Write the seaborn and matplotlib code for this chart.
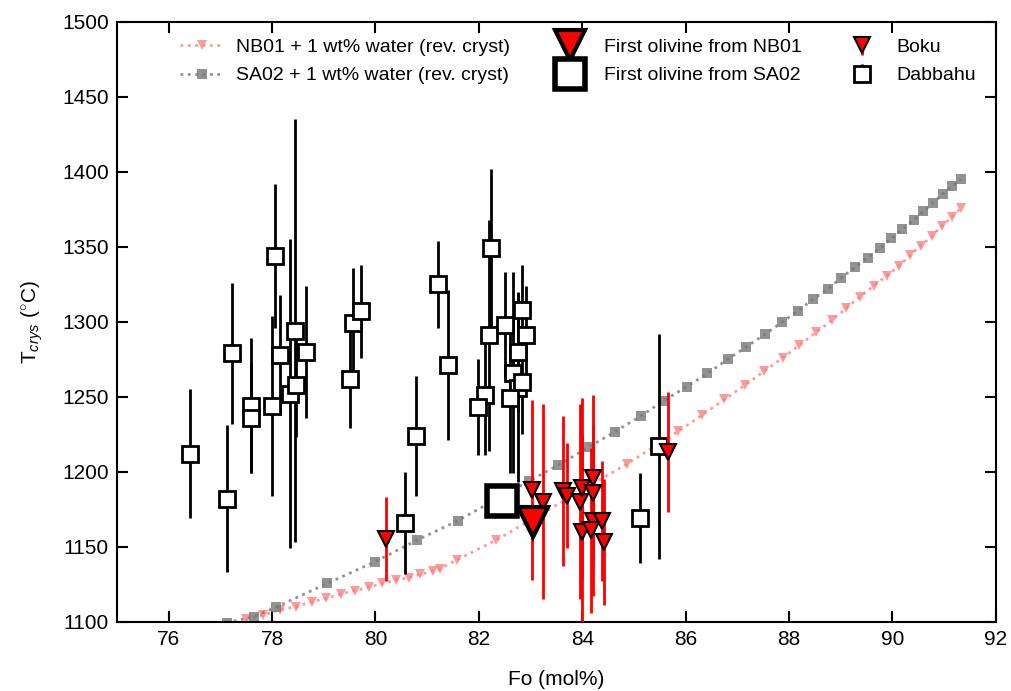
import matplotlib
matplotlib.use("Agg")
import matplotlib.pyplot as plt
import numpy as np
import pandas as pd
import seaborn as sns

# ---------------- data ----------------
nb01_fo = [77.49, 77.83, 78.15, 78.47, 78.77, 79.05, 79.33, 79.60, 79.87, 80.13, 80.39,
           80.64, 80.87, 81.11, 81.25, 81.57, 82.34, 84.86, 85.86, 86.32, 86.75, 87.15,
           87.52, 87.88, 88.20, 88.52, 88.83, 89.10, 89.37, 89.64, 89.89, 90.13, 90.34,
           90.55, 90.76, 90.95, 91.15, 91.32]
nb01_t = [1101.6, 1104.5, 1107.8, 1110.0, 1113.3, 1115.6, 1118.5, 1120.7, 1123.0, 1125.6,
          1127.8, 1129.3, 1131.6, 1133.8, 1135.3, 1141.1, 1154.5, 1205.1, 1227.1, 1237.8,
          1248.3, 1257.8, 1267.1, 1276.0, 1284.5, 1292.9, 1301.1, 1308.9, 1316.7, 1324.0,
          1330.7, 1337.3, 1344.3, 1350.9, 1357.1, 1363.8, 1369.8, 1375.8]

sa02_fo = [77.12, 77.65, 78.07, 79.07, 79.99, 80.81, 81.59, 82.30, 82.97, 83.54, 84.12,
           84.63, 85.13, 85.56, 86.02, 86.42, 86.81, 87.17, 87.53, 87.86, 88.17, 88.46,
           88.75, 89.01, 89.27, 89.52, 89.75, 89.98, 90.19, 90.41, 90.60, 90.78, 90.97,
           91.16, 91.33]
sa02_t = [1099.3, 1103.3, 1109.6, 1125.6, 1140.0, 1154.5, 1167.3, 1181.0, 1193.8, 1204.5,
          1216.3, 1226.7, 1237.1, 1247.1, 1256.7, 1265.6, 1274.9, 1283.3, 1291.6, 1299.6,
          1307.3, 1314.9, 1321.8, 1329.3, 1336.3, 1342.9, 1349.0, 1355.6, 1361.6, 1367.8,
          1373.6, 1379.3, 1385.0, 1390.5, 1395.1]

first_nb01_fo = [83.05]
first_nb01_t = [1166.7]
first_sa02_fo = [82.45]
first_sa02_t = [1180.5]

boku_fo = [80.21, 83.03, 83.25, 83.62, 83.70, 83.96, 84.00, 84.21, 84.21, 83.99,
           84.21, 84.39, 84.16, 84.43, 85.66]
boku_t = [1155, 1188, 1180, 1187, 1184, 1180, 1189, 1196, 1186, 1160,
          1167, 1167, 1161, 1153, 1213]
boku_err = [28, 60, 65, 50, 35, 65, 60, 55, 45, 65, 50, 40, 55, 42, 40]

dab_fo = [76.41, 77.13, 77.23, 77.59, 77.60, 78.05, 78.15, 77.99, 78.35, 78.45, 78.46,
          78.66, 79.50, 79.57, 79.72, 80.57, 80.79, 81.21, 81.41, 82.23, 82.19, 82.12,
          81.99, 82.51, 82.83, 82.91, 82.75, 82.66, 82.75, 82.60, 82.83, 85.11, 85.48]
dab_t = [1212, 1182, 1279, 1244, 1236, 1344, 1278, 1244, 1252, 1294, 1258,
         1280, 1262, 1299, 1307, 1166, 1224, 1325, 1271, 1349, 1291, 1251,
         1243, 1298, 1308, 1291, 1280, 1266, 1256, 1249, 1260, 1169, 1217]
dab_err = [43, 49, 47, 45, 37, 48, 40, 60, 103, 141, 35,
           44, 33, 37, 31, 34, 40, 29, 50, 53, 77, 40,
           32, 35, 30, 33, 40, 67, 63, 50, 35, 30, 75]

x_ticks = [76, 78, 80, 82, 84, 86, 88, 90, 92]
y_ticks = [1100, 1150, 1200, 1250, 1300, 1350, 1400, 1450, 1500]

# ---------------- style ----------------
sns.set_theme(style="ticks")
plt.rcParams["font.family"] = ["Liberation Sans", "DejaVu Sans"]
plt.rcParams["mathtext.fontset"] = "custom"
plt.rcParams["mathtext.rm"] = "Liberation Sans"
plt.rcParams["mathtext.it"] = "Liberation Sans:italic"
plt.rcParams["text.color"] = "black"
plt.rcParams["axes.labelcolor"] = "black"
plt.rcParams["xtick.color"] = "black"
plt.rcParams["ytick.color"] = "black"

fig = plt.figure(figsize=(10.11, 6.91), dpi=100)
ax = fig.add_axes([0.1157, 0.1003, 0.8693, 0.8679])

nb = pd.DataFrame({"Fo": nb01_fo, "T": nb01_t})
sa = pd.DataFrame({"Fo": sa02_fo, "T": sa02_t})

sns.lineplot(data=nb, x="Fo", y="T", sort=False, estimator=None, ax=ax,
             color="#ff7878", linestyle=":", linewidth=2, marker="v", markersize=7,
             markeredgewidth=0, alpha=0.75, zorder=2,
             label="NB01 + 1 wt% water (rev. cryst)")
sns.lineplot(data=sa, x="Fo", y="T", sort=False, estimator=None, ax=ax,
             color="#777777", linestyle=":", linewidth=2, marker="s", markersize=7,
             markeredgewidth=0, alpha=0.8, zorder=2,
             label="SA02 + 1 wt% water (rev. cryst)")

dab = ax.errorbar(dab_fo, dab_t, yerr=dab_err, fmt="s", mfc="white", mec="black",
                  mew=2, ms=11, ecolor="black", elinewidth=2, capsize=0, zorder=3,
                  label="Dabbahu")
boku = ax.errorbar(boku_fo, boku_t, yerr=boku_err, fmt="v", mfc="red", mec="black",
                   mew=1.5, ms=11, ecolor="red", elinewidth=2, capsize=0, zorder=4,
                   label="Boku")

h_sa_first, = ax.plot(first_sa02_fo, first_sa02_t, "s", ms=21, mfc="white", mec="black",
                      mew=4, zorder=5, label="First olivine from SA02")
h_nb_first, = ax.plot(first_nb01_fo, first_nb01_t, "v", ms=22, mfc="red", mec="black",
                      mew=3, zorder=6, label="First olivine from NB01")

ax.set_xlim(75, 92)
ax.set_ylim(1100, 1500)
ax.set_xticks(x_ticks)
ax.set_yticks(y_ticks)
ax.set_xlabel("Fo (mol%)", fontsize=15, labelpad=15)
ax.set_ylabel(r"T$_{crys}$ ($^{\circ}$C)", fontsize=15, labelpad=12)
ax.tick_params(direction="in", length=8, width=1.5, top=True, right=True,
               labelsize=15, pad=6, colors="black")
for s in ax.spines.values():
    s.set_linewidth(1.5)
    s.set_color("black")

lines = ax.get_lines()
h_nb_line = [l for l in lines if l.get_label().startswith("NB01")][0]
h_sa_line = [l for l in lines if l.get_label().startswith("SA02")][0]
handles = [h_nb_line, h_sa_line, h_nb_first, h_sa_first, boku, dab]
labels = [h.get_label() for h in handles[:4]] + ["Boku", "Dabbahu"]
ax.legend(handles, labels, ncol=3, loc="upper left", bbox_to_anchor=(0.05, 1.005),
          frameon=False, fontsize=14, handlelength=2.2, columnspacing=2.0,
          labelspacing=0.55, handletextpad=0.65, borderaxespad=0.6)

fig.savefig("out.png", dpi=100)
